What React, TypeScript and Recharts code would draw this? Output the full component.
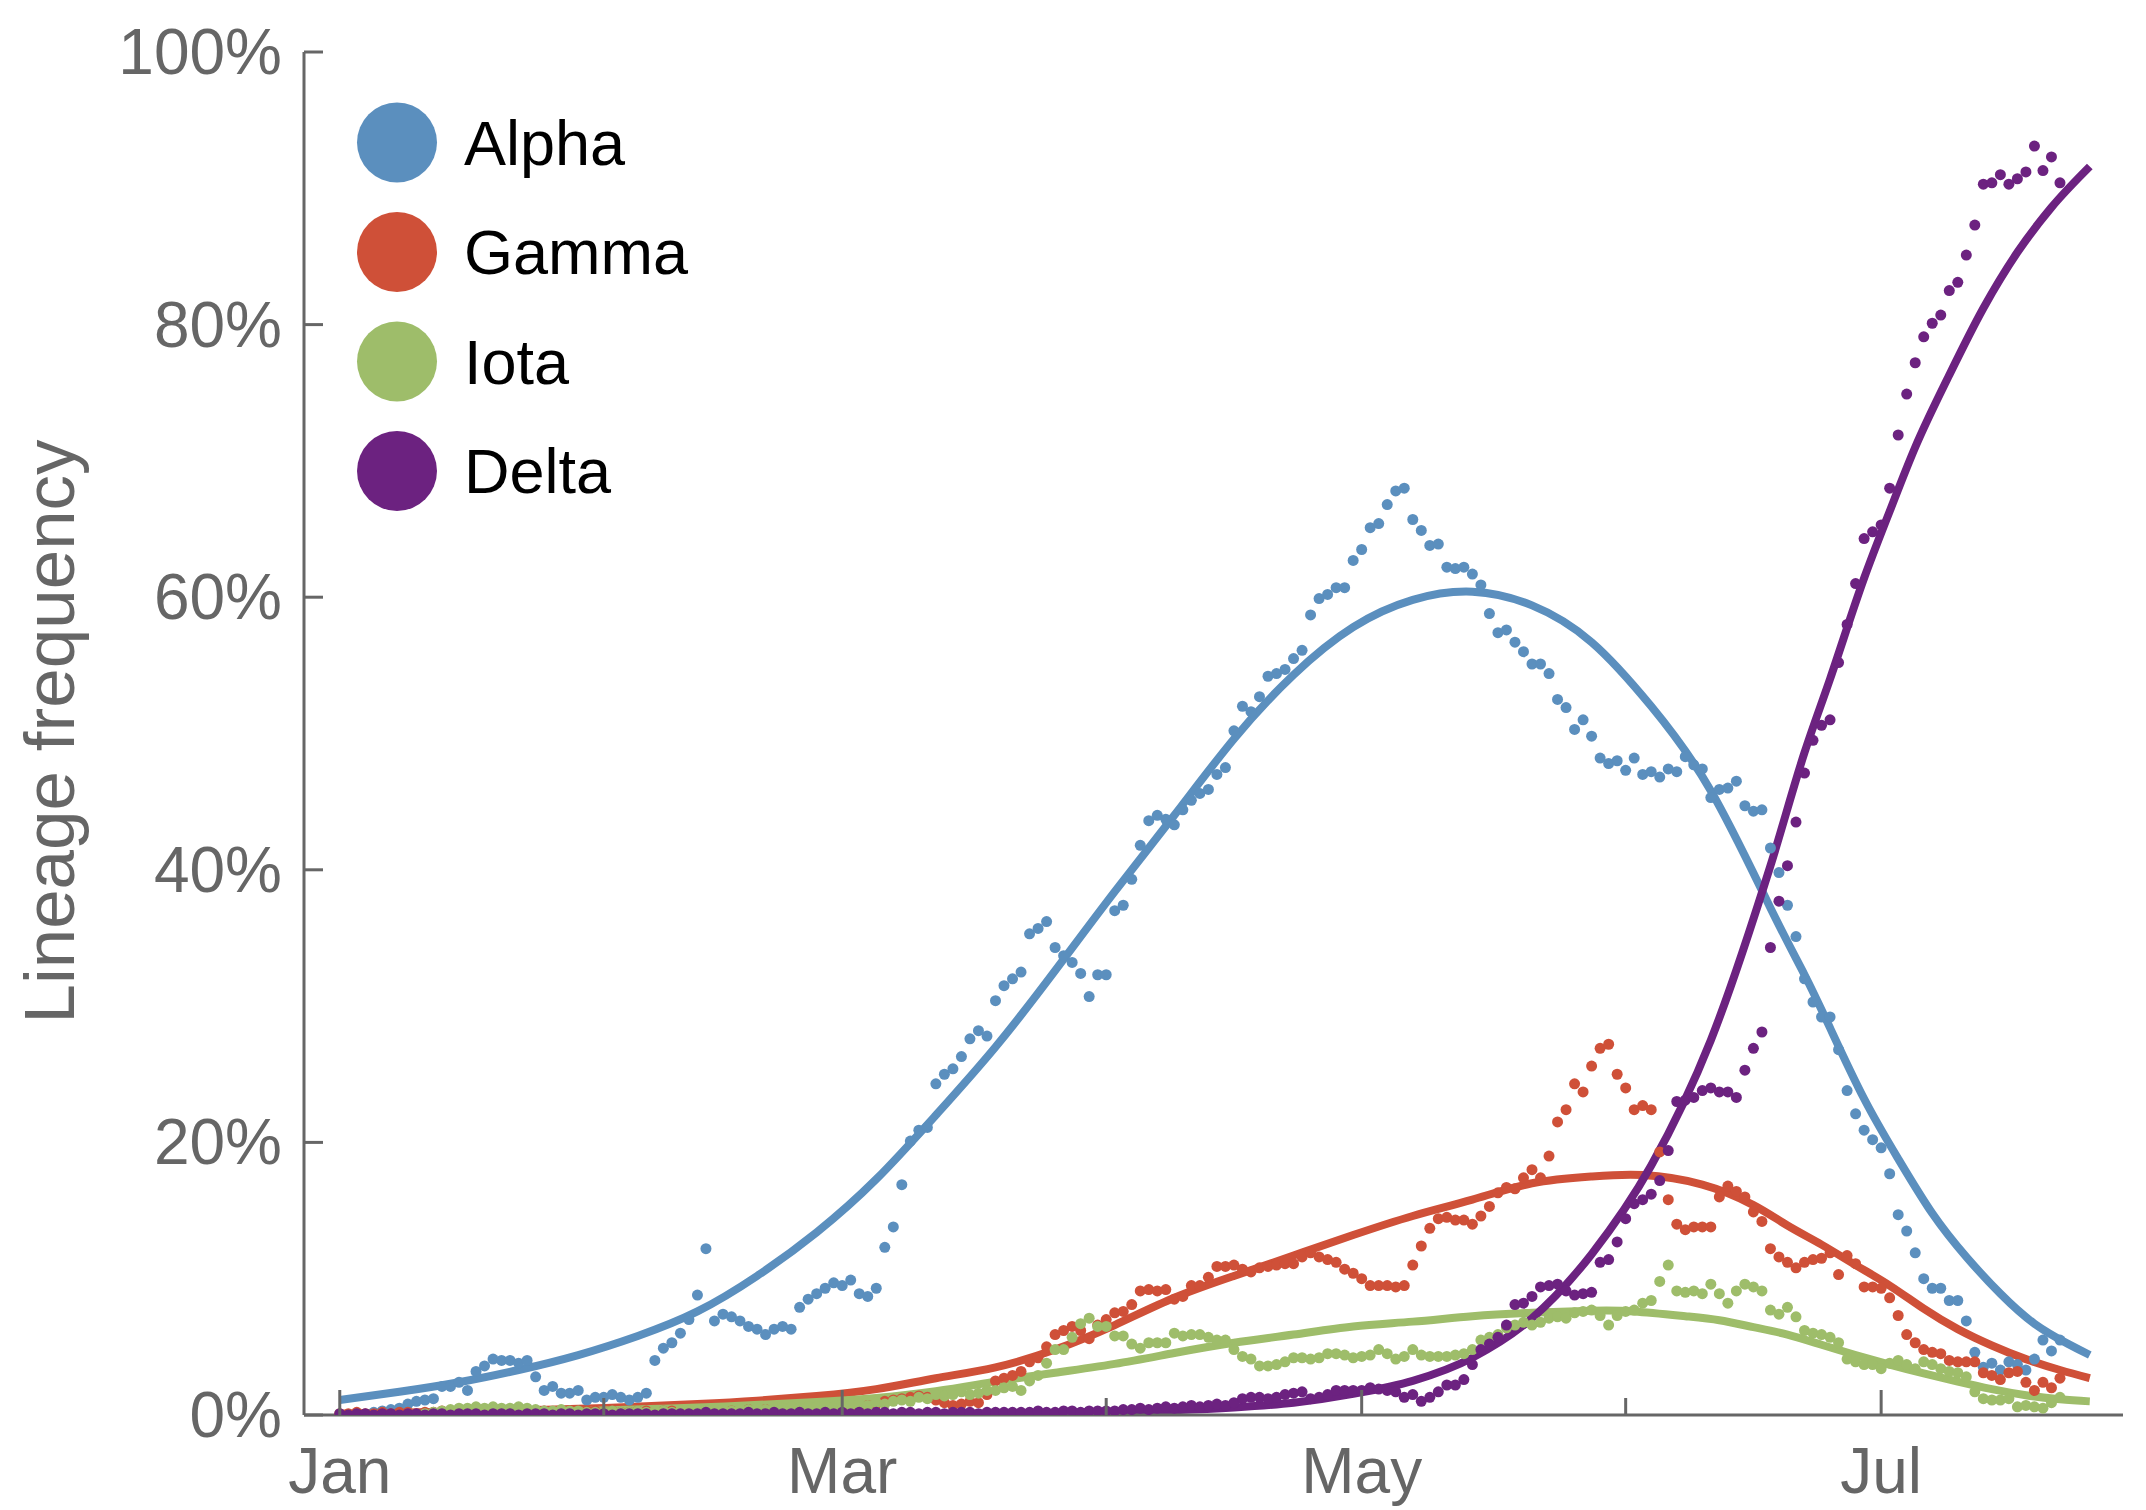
import React from 'react';
import { ComposedChart, Line, Scatter, XAxis, YAxis, Legend } from 'recharts';

// x = days since Jan 1 (2021); y = lineage frequency in %
const monthTicks = [0, 31, 59, 90, 120, 151, 181];
const monthLabels = ['Jan', '', 'Mar', '', 'May', '', 'Jul'];
const yTicks = [0, 20, 40, 60, 80, 100];

// ---- daily observed frequencies (dots) ----
const alphaStart = 4;
const alphaDots = [
  0.2, 0.3, 0.4, 0.5, 0.8, 1.0, 1.1, 1.2, 2.1, 2.1, // 4-13
  2.4, 1.8, 3.2, 3.6, 4.1, 4.0, 4.0, 3.8, 4.0, 2.8, // 14-23
  1.8, 2.1, 1.6, 1.6, 1.8, 1.1, 1.3, 1.3, 1.5, 1.3, // 24-33
  1.1, 1.3, 1.6, 4.0, 4.9, 5.3, 6.0, 7.0, 8.8, 12.2, // 34-43
  6.9, 7.4, 7.2, 6.9, 6.5, 6.3, 5.9, 6.3, 6.5, 6.3, // 44-53
  7.9, 8.5, 8.9, 9.3, 9.7, 9.5, 9.9, 8.9, 8.7, 9.3, // 54-63
  12.3, 13.8, 16.9, 20.1, 20.9, 21.1, 24.3, 25.0, 25.4, 26.3, // 64-73
  27.6, 28.2, 27.8, 30.4, 31.5, 32.0, 32.5, 35.3, 35.7, 36.2, // 74-83
  34.3, 33.7, 33.2, 32.4, 30.7, 32.3, 32.3, 37.0, 37.4, 39.3, // 84-93
  41.8, 43.6, 44.0, 43.7, 43.3, 44.4, 45.1, 45.6, 45.9, 47.0, // 94-103
  47.5, 50.2, 52.0, 51.6, 52.7, 54.2, 54.4, 54.7, 55.5, 56.1, // 104-113
  58.7, 59.9, 60.2, 60.7, 60.7, 62.7, 63.5, 65.1, 65.4, 66.8, // 114-123
  67.8, 68.0, 65.7, 64.9, 63.8, 63.9, 62.2, 62.1, 62.2, 61.7, // 124-133
  60.9, 58.8, 57.4, 57.6, 56.7, 56.0, 55.1, 55.1, 54.4, 52.5, // 134-143
  51.9, 50.3, 51.0, 49.8, 48.2, 47.8, 48.0, 47.3, 48.2, 47.0, // 144-153
  47.2, 46.8, 47.4, 47.2, 48.3, 47.7, 47.4, 45.3, 45.9, 46.0, // 154-163
  46.5, 44.7, 44.3, 44.4, 41.6, 39.8, 37.4, 35.1, 32.0, 30.3, // 164-173
  29.2, 29.2, 26.8, 23.8, 22.1, 20.9, 20.2, 19.6, 17.7, 14.7, // 174-183
  13.5, 11.9, 10.0, 9.3, 9.3, 8.4, 8.4, 6.9, 4.6, 3.5, // 184-193
  3.8, 3.3, 3.9, 3.7, 3.3, 4.1, 5.5, 4.7, 5.5, // 194-202
];

const gammaStart = 0;
const gammaDots = [
  0.1, 0.1, 0.2, 0.1, 0.1, 0.2, 0.1, 0.2, 0.2, 0.1, // 0-9
  0.2, 0.2, 0.3, 0.2, 0.2, 0.3, 0.2, 0.3, 0.3, 0.2, // 10-19
  0.3, 0.3, 0.2, 0.3, 0.3, 0.2, 0.3, 0.3, 0.2, 0.3, // 20-29
  0.3, 0.2, 0.3, 0.2, 0.2, 0.3, 0.3, 0.2, 0.3, 0.3, // 30-39
  0.2, 0.2, 0.3, 0.2, 0.3, 0.2, 0.3, 0.3, 0.4, 0.3, // 40-49
  0.4, 0.3, 0.4, 0.5, 0.4, 0.5, 0.5, 0.4, 0.5, 0.6, // 50-59
  0.5, 0.6, 0.7, 0.8, 1.0, 1.1, 1.2, 1.3, 1.4, 1.3, // 60-69
  1.1, 0.9, 0.7, 0.8, 1.0, 0.9, 1.5, 2.5, 2.7, 2.9, // 70-79
  3.2, 3.9, 4.2, 5.0, 5.9, 6.2, 6.5, 6.2, 5.6, 6.6, // 80-89
  7.0, 7.5, 7.6, 8.1, 9.1, 9.2, 9.1, 9.2, 8.5, 8.7, // 90-99
  9.5, 9.5, 10.1, 10.9, 10.9, 11.0, 10.7, 10.5, 10.8, 10.9, // 100-109
  11.0, 11.1, 11.1, 11.6, 11.9, 11.6, 11.4, 11.2, 10.7, 10.4, // 110-119
  10.0, 9.5, 9.5, 9.5, 9.4, 9.5, 11.0, 12.4, 13.7, 14.4, // 120-129
  14.5, 14.3, 14.3, 14.0, 14.6, 15.3, 16.3, 16.7, 16.6, 17.4, // 130-139
  18.0, 17.4, 19.0, 21.5, 22.4, 24.3, 23.7, 25.6, 26.9, 27.2, // 140-149
  25.0, 24.0, 22.4, 22.7, 22.4, 19.3, 15.8, 14.0, 13.6, 13.8, // 150-159
  13.8, 13.8, 16.0, 16.8, 16.4, 16.0, 14.9, 14.2, 12.2, 11.6, // 160-169
  11.2, 10.8, 11.2, 11.4, 11.5, 11.9, 10.3, 11.7, 11.1, 9.4, // 170-179
  9.4, 9.3, 8.6, 7.3, 5.9, 5.3, 4.8, 4.6, 4.5, 4.0, // 180-189
  3.9, 3.9, 3.9, 3.1, 2.9, 2.6, 3.1, 3.2, 2.4, 1.8, // 190-199
  2.4, 2.0, 2.7, // 200-202
];

const iotaStart = 10;
const iotaDots = [
  0.1, 0.2, 0.3, 0.4, 0.5, 0.5, 0.6, 0.5, 0.6, 0.5, // 10-19
  0.5, 0.6, 0.5, 0.4, 0.3, 0.3, 0.4, 0.3, 0.3, 0.2, // 20-29
  0.2, 0.2, 0.3, 0.2, 0.2, 0.3, 0.2, 0.3, 0.3, 0.2, // 30-39
  0.3, 0.3, 0.4, 0.3, 0.4, 0.4, 0.3, 0.4, 0.4, 0.5, // 40-49
  0.4, 0.5, 0.5, 0.6, 0.5, 0.6, 0.6, 0.7, 0.6, 0.8, // 50-59
  0.7, 0.8, 0.7, 0.9, 0.8, 1.0, 1.1, 1.0, 1.3, 1.2, // 60-69
  1.5, 1.4, 1.5, 1.7, 1.5, 1.6, 1.8, 1.8, 2.0, 2.1, // 70-79
  1.8, 2.5, 2.9, 3.8, 4.8, 4.8, 5.7, 6.7, 7.1, 6.5, // 80-89
  6.5, 5.8, 5.8, 5.2, 4.9, 5.3, 5.3, 5.3, 6.0, 5.8, // 90-99
  5.9, 5.9, 5.7, 5.5, 5.5, 4.8, 4.3, 4.1, 3.6, 3.6, // 100-109
  3.7, 3.9, 4.2, 4.2, 4.1, 4.2, 4.5, 4.5, 4.4, 4.2, // 110-119
  4.3, 4.4, 4.8, 4.5, 4.1, 4.3, 4.8, 4.4, 4.3, 4.3, // 120-129
  4.3, 4.4, 4.5, 4.8, 5.5, 5.7, 5.9, 6.4, 6.6, 6.8, // 130-139
  6.6, 6.8, 7.1, 7.2, 7.1, 7.5, 7.6, 7.7, 7.3, 6.6, // 140-149
  7.3, 7.6, 7.7, 8.2, 8.4, 9.8, 11.0, 9.1, 9.0, 9.1, // 150-159
  8.9, 9.6, 8.9, 8.2, 9.1, 9.6, 9.4, 9.1, 7.7, 7.4, // 160-169
  7.9, 7.2, 6.2, 6.0, 5.9, 5.7, 5.3, 4.1, 3.9, 3.7, // 170-179
  3.7, 3.4, 3.8, 4.0, 3.7, 3.4, 3.9, 3.7, 3.4, 3.2, // 180-189
  3.1, 2.8, 1.7, 1.2, 1.1, 1.1, 1.2, 0.6, 0.7, 0.6, // 190-199
  0.5, 0.9, 1.3, // 200-202
];

const deltaStart = 0;
const deltaDots = [
  0.1, 0.0, 0.1, 0.1, 0.0, 0.1, 0.1, 0.0, 0.1, 0.1, // 0-9
  0.0, 0.1, 0.1, 0.0, 0.1, 0.1, 0.1, 0.0, 0.1, 0.1, // 10-19
  0.1, 0.0, 0.1, 0.1, 0.1, 0.0, 0.1, 0.1, 0.0, 0.1, // 20-29
  0.1, 0.1, 0.0, 0.1, 0.1, 0.1, 0.1, 0.0, 0.1, 0.1, // 30-39
  0.1, 0.1, 0.1, 0.2, 0.1, 0.1, 0.1, 0.1, 0.2, 0.1, // 40-49
  0.1, 0.2, 0.1, 0.1, 0.2, 0.1, 0.1, 0.2, 0.1, 0.2, // 50-59
  0.1, 0.2, 0.1, 0.2, 0.2, 0.1, 0.2, 0.2, 0.1, 0.2, // 60-69
  0.2, 0.1, 0.2, 0.2, 0.2, 0.1, 0.2, 0.2, 0.2, 0.2, // 70-79
  0.2, 0.2, 0.3, 0.2, 0.2, 0.3, 0.3, 0.2, 0.3, 0.3, // 80-89
  0.3, 0.3, 0.4, 0.4, 0.5, 0.4, 0.5, 0.6, 0.5, 0.6, // 90-99
  0.7, 0.6, 0.7, 0.8, 0.7, 0.9, 1.2, 1.3, 1.3, 1.2, // 100-109
  1.3, 1.5, 1.6, 1.7, 1.2, 1.3, 1.5, 1.8, 1.8, 1.8, // 110-119
  1.8, 2.0, 1.9, 1.8, 1.7, 1.3, 1.5, 1.0, 1.3, 1.7, // 120-129
  2.2, 2.2, 2.6, 3.7, 4.8, 5.2, 5.7, 6.6, 8.1, 8.2, // 130-139
  8.7, 9.4, 9.5, 9.6, 9.1, 8.8, 8.9, 9.0, 11.2, 11.4, // 140-149
  12.7, 14.4, 15.5, 15.8, 16.2, 17.2, 19.4, 23.0, 23.1, 23.3, // 150-159
  23.8, 24.0, 23.7, 23.7, 23.3, 25.3, 26.9, 28.1, 34.3, 37.7, // 160-169
  40.3, 43.5, 47.1, 49.5, 50.6, 51.0, 55.2, 58.0, 61.0, 64.3, // 170-179
  64.8, 65.3, 68.0, 71.9, 74.9, 77.2, 79.1, 80.1, 80.7, 82.5, // 180-189
  83.1, 85.1, 87.3, 90.3, 90.4, 91.0, 90.3, 90.7, 91.2, 93.1, // 190-199
  91.3, 92.3, 90.4, // 200-202
];

// ---- fitted model curves, read as [day, %] ----
const alphaFit = [
  [0, 1.1], [7, 1.7], [14, 2.4], [21, 3.3], [28, 4.4], [35, 5.8], [42, 7.6], [49, 10.2],
  [56, 13.4], [63, 17.3], [70, 22.0], [77, 27.0], [84, 32.6], [91, 38.4], [98, 44.0],
  [105, 49.6], [112, 54.3], [119, 57.8], [126, 59.8], [133, 60.4], [140, 59.4], [147, 56.7],
  [154, 52.0], [161, 45.8], [168, 37.2], [172, 32.3], [175, 28.4], [179, 23.2], [183, 18.8],
  [187, 14.8], [191, 11.6], [195, 8.9], [199, 6.7], [203, 5.2], [205.5, 4.4],
];
const gammaFit = [
  [0, 0.1], [14, 0.25], [28, 0.45], [42, 0.8], [49, 1.05], [56, 1.4], [63, 1.9], [70, 2.7],
  [77, 3.5], [84, 4.8], [91, 6.6], [98, 8.6], [105, 10.2], [112, 11.7], [119, 13.2],
  [126, 14.6], [133, 15.8], [140, 17.0], [147, 17.5], [153, 17.6], [160, 16.9], [166, 15.4],
  [170, 13.9], [174, 12.5], [178, 11.0], [182, 9.5], [186, 7.8], [190, 6.3], [194, 5.1],
  [198, 4.1], [202, 3.3], [205.5, 2.7],
];
const iotaFit = [
  [0, 0.05], [14, 0.15], [28, 0.3], [42, 0.55], [56, 0.95], [63, 1.25], [70, 1.75],
  [77, 2.45], [84, 3.1], [91, 3.75], [98, 4.55], [105, 5.3], [112, 5.9], [119, 6.5],
  [126, 6.85], [133, 7.25], [140, 7.5], [147, 7.65], [152, 7.6], [158, 7.25], [162, 6.95],
  [166, 6.45], [170, 5.9], [174, 5.15], [178, 4.4], [182, 3.7], [186, 3.05], [190, 2.45],
  [194, 1.9], [198, 1.45], [202, 1.15], [205.5, 1.0],
];
const deltaFit = [
  [0, 0.0], [56, 0.05], [70, 0.1], [84, 0.15], [91, 0.25], [98, 0.35], [105, 0.55],
  [112, 0.9], [119, 1.55], [126, 2.5], [133, 4.2], [140, 7.1], [147, 11.8], [154, 18.3],
  [161, 27.5], [168, 40.3], [172, 48.6], [175, 54.0], [179, 61.4], [182, 66.3], [185, 71.0],
  [189, 76.3], [193, 81.2], [197, 85.3], [201, 88.6], [205.5, 91.6],
];

const seriesNames = ['Alpha', 'Gamma', 'Iota', 'Delta'];
const seriesColors = ['#5B8FBE', '#CF5038', '#9EBD6A', '#6C2280'];
const curveTypes: any[] = ['natural', 'natural', 'natural', 'monotone'];

const toDots = (start: number, vals: number[]) => vals.map((v, i) => ({ day: start + i, v }));
const toFit = (pairs: number[][]) => pairs.map(([day, v]) => ({ day, v }));

const series = [
  { dots: toDots(alphaStart, alphaDots), fit: toFit(alphaFit) },
  { dots: toDots(gammaStart, gammaDots), fit: toFit(gammaFit) },
  { dots: toDots(iotaStart, iotaDots), fit: toFit(iotaFit) },
  { dots: toDots(deltaStart, deltaDots), fit: toFit(deltaFit) },
].map((s, i) => ({ ...s, name: seriesNames[i], color: seriesColors[i], curve: curveTypes[i] }));

const FONT = '"Liberation Sans", Arial, Helvetica, sans-serif';
const AXIS = '#666666';

const XTick = (props: any) => {
  const { x, y, payload } = props;
  const idx = monthTicks.indexOf(payload.value);
  const label = idx >= 0 ? monthLabels[idx] : '';
  const len = label ? 25 : 17;
  return (
    <g>
      <line x1={x} x2={x} y1={y} y2={y - len} stroke={AXIS} strokeWidth={3} />
      {label ? (
        <text x={x} y={y + 78} textAnchor="middle" fill={AXIS} fontSize={64} fontFamily={FONT}>
          {label}
        </text>
      ) : null}
    </g>
  );
};

const YTick = (props: any) => {
  const { x, y, payload } = props;
  return (
    <g>
      <line x1={x} x2={x + 19} y1={y} y2={y} stroke={AXIS} strokeWidth={3} />
      <text x={x - 22} y={y + 22} textAnchor="end" fill={AXIS} fontSize={64} fontFamily={FONT}>
        {`${payload.value}%`}
      </text>
    </g>
  );
};

const YLabel = (props: any) => {
  const vb = props.viewBox || { y: 52, height: 1363 };
  const cy = vb.y + vb.height / 2 - 2;
  const cx = 74;
  return (
    <text
      x={cx}
      y={cy}
      transform={`rotate(-90, ${cx}, ${cy})`}
      textAnchor="middle"
      fill={AXIS}
      fontSize={71}
      fontFamily={FONT}
    >
      Lineage frequency
    </text>
  );
};

const LEG_LEFT = 340;
const LEG_TOP = 90;

const renderLegend = () => (
  <svg width={420} height={460} style={{ display: 'block' }}>
    {series.map((s, i) => {
      const cy = 52.5 + i * 109.5;
      return (
        <g key={s.name}>
          <circle cx={57} cy={cy} r={40} fill={s.color} />
          <text x={124} y={cy + 22} fill="#000" fontSize={63} fontFamily={FONT}>
            {s.name}
          </text>
        </g>
      );
    })}
  </svg>
);

export default function App() {
  return (
    <div style={{ position: 'absolute', left: 0, top: 0, width: 2146, height: 1510, background: '#fff' }}>
      <ComposedChart width={2146} height={1510} margin={{ top: 52, right: 23, bottom: 0, left: 0 }}>
        <XAxis
          type="number"
          dataKey="day"
          domain={[-4.2, 209.4]}
          allowDataOverflow
          ticks={monthTicks}
          interval={0}
          height={95}
          axisLine={{ stroke: AXIS, strokeWidth: 3 }}
          tickLine={false}
          tickSize={0}
          tickMargin={0}
          tick={<XTick />}
        />
        <YAxis
          type="number"
          dataKey="v"
          domain={[0, 100]}
          allowDataOverflow
          ticks={yTicks}
          interval={0}
          width={304}
          axisLine={{ stroke: AXIS, strokeWidth: 3 }}
          tickLine={false}
          tickSize={0}
          tickMargin={0}
          tick={<YTick />}
          label={<YLabel />}
        />
        {series.map((s) => [
          <Scatter
            key={`${s.name}-dots`}
            name={s.name}
            data={s.dots}
            fill={s.color}
            isAnimationActive={false}
            shape={(p: any) => <circle cx={p.cx} cy={p.cy} r={5.5} fill={s.color} />}
          />,
          <Line
            key={`${s.name}-fit`}
            name={`${s.name} fit`}
            data={s.fit}
            dataKey="v"
            type={s.curve}
            stroke={s.color}
            strokeWidth={8}
            dot={false}
            activeDot={false}
            legendType="none"
            isAnimationActive={false}
          />,
        ])}
        <Legend
          layout="vertical"
          align="center"
          verticalAlign="middle"
          content={renderLegend}
          wrapperStyle={{ position: 'absolute', left: LEG_LEFT, top: LEG_TOP, width: 420, height: 460 }}
        />
      </ComposedChart>
    </div>
  );
}
